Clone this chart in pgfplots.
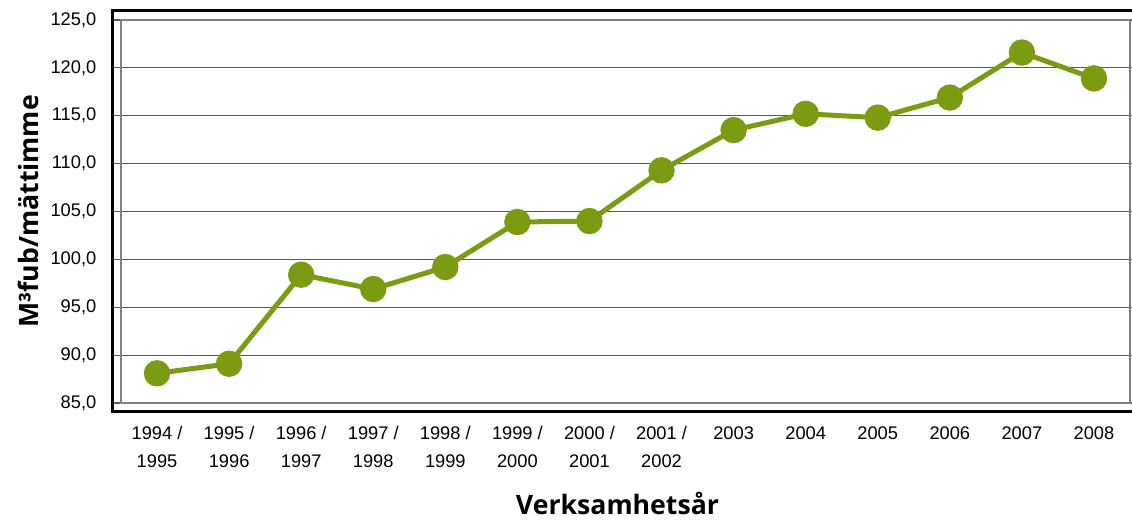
\documentclass[border=0pt]{standalone}
\usepackage{fontspec}
\setmainfont{Liberation Sans}
\newfontfamily\labelfont{Open Sans}
\usepackage{pgfplots}
\pgfplotsset{compat=1.18}
\definecolor{olive}{RGB}{122,155,18}
\begin{document}
\begin{tikzpicture}
\begin{axis}[
  anchor=south west, at={(0,0)},
  scale only axis,
  width=756.75pt, height=287.25pt,
  xmin=-0.5, xmax=13.5,
  ymin=85, ymax=125,
  clip=false,
  axis line style={draw=black!50, line width=1.8pt},
  xtick={0,1,2,3,4,5,6,7,8,9,10,11,12,13},
  xticklabels={{1994 /\\1995},{1995 /\\1996},{1996 /\\1997},{1997 /\\1998},{1998 /\\1999},{1999 /\\2000},{2000 /\\2001},{2001 /\\2002},2003,2004,2005,2006,2007,2008},
  xticklabel style={align=center, font=\fontsize{13.7pt}{21pt}\selectfont, anchor=north, yshift=-8pt},
  major tick length=6pt,
  tick align=outside,
  xtick style={draw=none},
  extra x ticks={-0.5,0.5,1.5,2.5,3.5,4.5,5.5,6.5,7.5,8.5,9.5,10.5,11.5,12.5,13.5},
  extra x tick labels={},
  extra x tick style={grid=none, tick style={draw=black, line width=1pt}},
  ytick={85,90,95,100,105,110,115,120,125},
  ymajorgrids,
  grid style={black!65, line width=0.9pt},
  ytick style={draw=black!65, line width=0.9pt},
  y tick label style={font=\fontsize{13.7pt}{16pt}\selectfont, xshift=-9pt},
  /pgf/number format/assume math mode=true,
  yticklabel={\pgfmathprintnumber[fixed, fixed zerofill, precision=1, use comma, assume math mode=true]{\tick}},
  xlabel={\labelfont\bfseries Verksamhetsår},
  xlabel style={font=\fontsize{20pt}{24pt}\selectfont, at={(axis description cs:0.5,0)}, anchor=base, yshift=-84pt, xshift=-6pt},
  ylabel={\labelfont\bfseries M³fub/mättimme},
  ylabel style={font=\fontsize{20pt}{24pt}\selectfont, at={(axis description cs:-0.0922,0.5)}, anchor=center},
]
\addplot[color=olive, line width=3.75pt, mark=*, mark size=8pt, mark options={fill=olive, draw=none}]
coordinates {
(0,88.1) (1,89.1) (2,98.4) (3,96.9) (4,99.2) (5,103.9) (6,104.0) (7,109.3)
(8,113.5) (9,115.2) (10,114.8) (11,116.9) (12,121.6) (13,118.9)
};
\end{axis}
\draw[black, line width=2.25pt] (758.25pt,294pt) -- (-6pt,294pt) -- (-6pt,-6.75pt) -- (758.25pt,-6.75pt);
\pgfresetboundingbox
\path[use as bounding box] (-90.75pt,-87.75pt) rectangle (758.25pt,302.25pt);
\end{tikzpicture}
\end{document}
